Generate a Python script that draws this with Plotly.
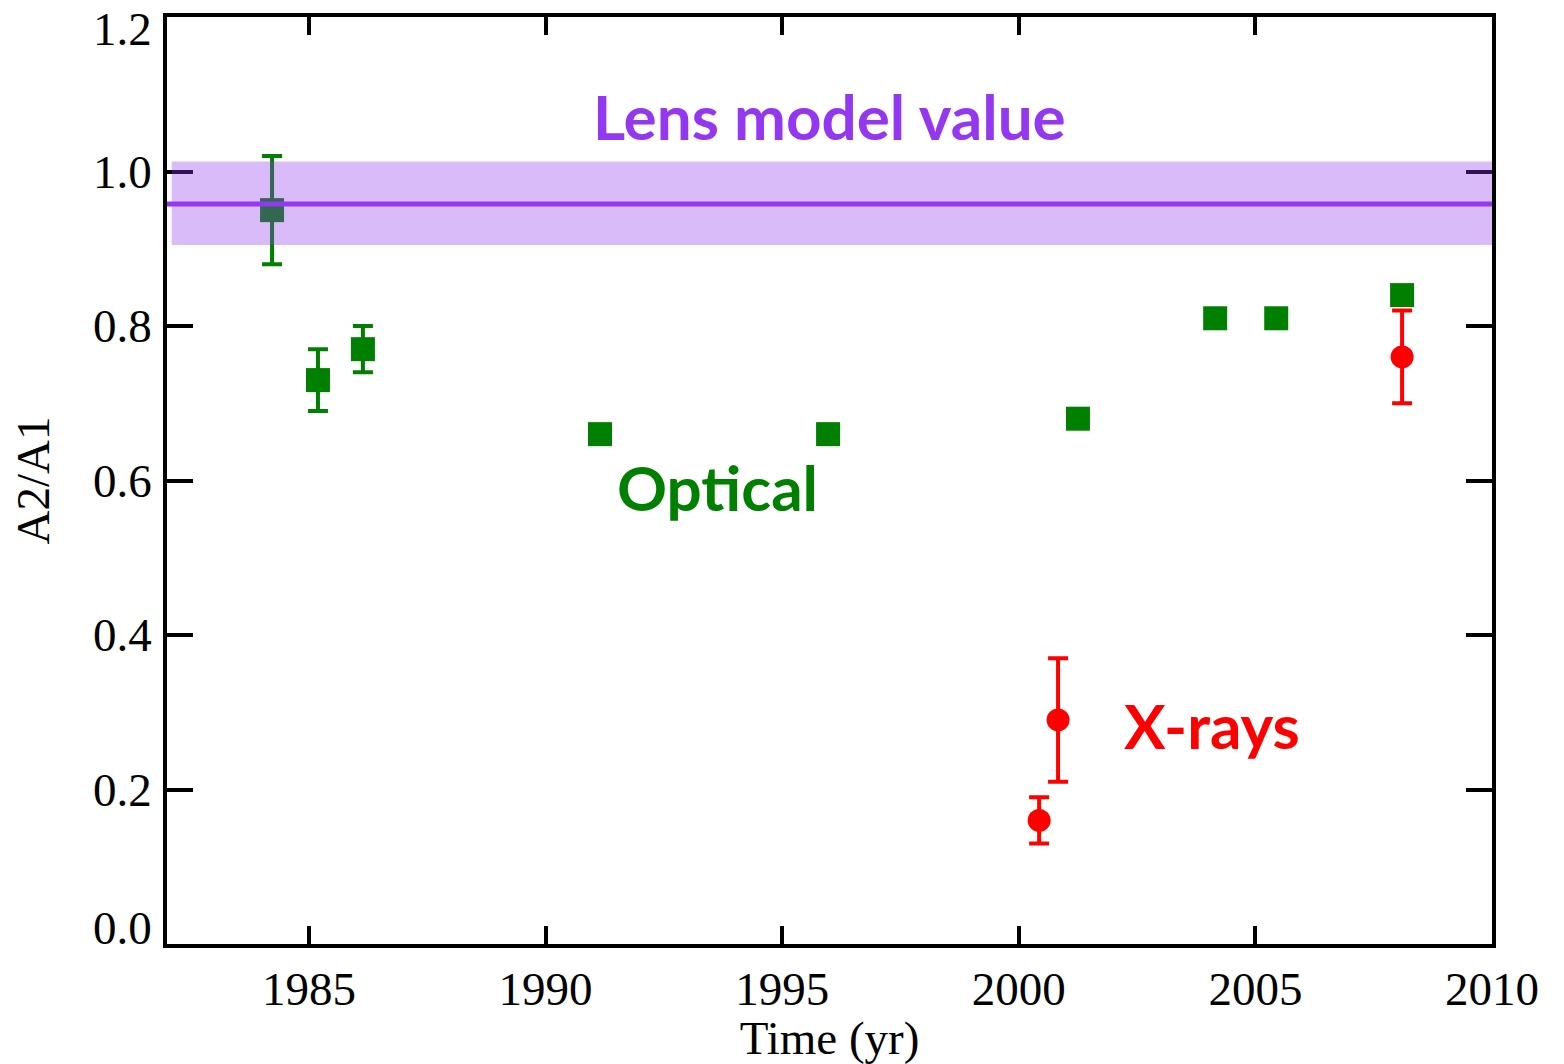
import plotly.graph_objects as go

# Optical flux ratio A2/A1 measurements
opt_year = [1984.22, 1985.19, 1986.14, 1991.15, 1995.97, 2001.25, 2004.15, 2005.44, 2008.10]
opt_ratio = [0.95, 0.73, 0.77, 0.66, 0.66, 0.68, 0.81, 0.81, 0.84]
opt_err = [0.07, 0.04, 0.03, 0, 0, 0, 0, 0, 0]

# X-ray flux ratio measurements
xray_year = [2000.43, 2000.83, 2008.10]
xray_ratio = [0.16, 0.29, 0.76]
xray_err = [0.03, 0.08, 0.06]

# Lens model prediction and its uncertainty band
model_value = 0.958
model_band = [0.905, 1.013]

x_ticks = [1985, 1990, 1995, 2000, 2005, 2010]
y_ticks = [0.0, 0.2, 0.4, 0.6, 0.8, 1.0, 1.2]

GREEN = "#008000"
RED = "#ff0000"
PURPLE = "#9437f0"

fig = go.Figure()

fig.add_trace(go.Scatter(
    x=opt_year, y=opt_ratio, mode="markers",
    marker=dict(symbol="square", size=24, color=GREEN),
    error_y=dict(type="data", array=opt_err, visible=True,
                 color=GREEN, thickness=4, width=10),
    showlegend=False,
))

fig.add_trace(go.Scatter(
    x=xray_year, y=xray_ratio, mode="markers",
    marker=dict(symbol="circle", size=23, color=RED),
    error_y=dict(type="data", array=xray_err, visible=True,
                 color=RED, thickness=4, width=10),
    showlegend=False,
))

# uncertainty band drawn over the points, then the model line on top
fig.add_shape(type="rect", xref="x", yref="y",
              x0=1982.1, x1=2010, y0=model_band[0], y1=model_band[1],
              fillcolor=PURPLE, opacity=0.34, line=dict(width=0), layer="above")
fig.add_shape(type="line", xref="x", yref="y",
              x0=1982, x1=2010, y0=model_value, y1=model_value,
              line=dict(color=PURPLE, width=5), layer="above")

label_font = dict(family="Lato", size=62, weight="bold")
fig.add_annotation(x=1996.0, y=1.072, text="Lens model value", showarrow=False,
                   xanchor="center", yanchor="middle",
                   font=dict(**label_font, color=PURPLE))
fig.add_annotation(x=1993.64, y=0.591, text="Optical", showarrow=False,
                   xanchor="center", yanchor="middle",
                   font=dict(**label_font, color=GREEN))
fig.add_annotation(x=2004.09, y=0.283, text="X-rays", showarrow=False,
                   xanchor="center", yanchor="middle",
                   font=dict(**label_font, color=RED))

axis_font = dict(family="Liberation Serif", size=47, color="black")

# y tick labels: the end labels are nudged inside the frame
for i, v in enumerate(y_ticks):
    shift = 16 if i == 0 else (-12 if i == len(y_ticks) - 1 else 0)
    fig.add_annotation(x=0, xref="paper", y=v, yref="y", text=f"{v:.1f}",
                       showarrow=False, xanchor="right", yanchor="middle",
                       xshift=-13, yshift=shift, font=axis_font)

fig.update_xaxes(
    range=[1982, 2010], tickvals=x_ticks, ticktext=[str(v) for v in x_ticks],
    ticks="inside", ticklen=18, tickwidth=4, tickcolor="black",
    showline=True, linewidth=4, linecolor="black", mirror="ticks",
    showgrid=False, zeroline=False, automargin=False,
    tickfont=axis_font, ticklabelstandoff=1,
    title=dict(text="Time (yr)", font=axis_font, standoff=7),
)
fig.update_yaxes(
    range=[0, 1.2], tickvals=y_ticks, showticklabels=False,
    ticks="inside", ticklen=26, tickwidth=4, tickcolor="black",
    showline=True, linewidth=4, linecolor="black", mirror="ticks",
    showgrid=False, zeroline=False, automargin=False,
    title=dict(text="A2/A1", font=axis_font, standoff=100),
)

fig.update_layout(
    width=1564, height=1064,
    margin=dict(l=167, r=72, t=17, b=120),
    paper_bgcolor="white", plot_bgcolor="white",
)

fig.write_html("out.html")
